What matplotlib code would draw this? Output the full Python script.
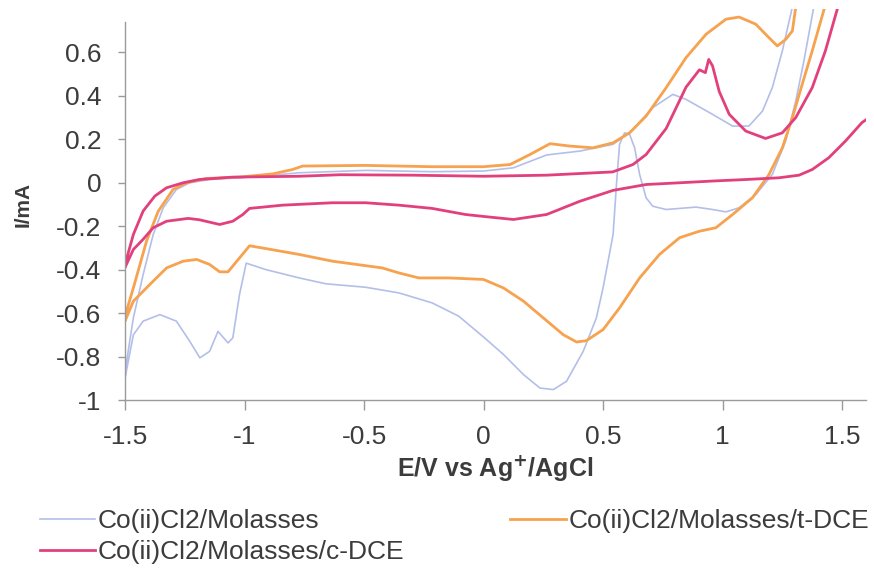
import matplotlib
matplotlib.use('Agg')
import matplotlib.pyplot as plt

# --- Data (E in V, I in mA) ---
mol_E = [1.38, 1.34, 1.306, 1.264, 1.208, 1.139, 1.069, 1.014, 0.958, 0.889, 0.764, 0.708, 0.68,
         0.653, 0.632, 0.611, 0.59, 0.569, 0.556, 0.542, 0.5, 0.472, 0.417, 0.347, 0.292, 0.236,
         0.167, 0.083, 0.0, -0.104, -0.215, -0.354, -0.493, -0.66, -0.771, -0.91, -0.993, -1.021,
         -1.049, -1.069, -1.111, -1.146, -1.187, -1.229, -1.285, -1.354, -1.424, -1.465, -1.5,
         -1.493, -1.465, -1.424, -1.382, -1.34, -1.285, -1.229, -1.146, -0.979, -0.771, -0.493,
         -0.215, 0.0, 0.125, 0.264, 0.403, 0.542, 0.62, 0.708, 0.792, 0.847, 0.958, 1.042, 1.11,
         1.167, 1.208, 1.25, 1.29]
mol_I = [0.80, 0.56, 0.376, 0.192, 0.038, -0.054, -0.115, -0.134, -0.123, -0.112, -0.123, -0.108, -0.069,
         0.038, 0.161, 0.223, 0.23, 0.177, -0.008, -0.238, -0.484, -0.622, -0.776, -0.914, -0.952, -0.945,
         -0.883, -0.79, -0.71, -0.614, -0.553, -0.507, -0.481, -0.465, -0.438, -0.4, -0.37, -0.515,
         -0.714, -0.737, -0.684, -0.776, -0.806, -0.73, -0.637, -0.607, -0.637, -0.7, -0.9,
         -0.82, -0.622, -0.422, -0.238, -0.115, -0.031, 0.0, 0.015, 0.026, 0.046, 0.057,
         0.051, 0.054, 0.069, 0.128, 0.146, 0.177, 0.24, 0.346, 0.407, 0.384, 0.315, 0.261, 0.261,
         0.33, 0.438, 0.607, 0.80]

tdce_E = [1.425, 1.375, 1.333, 1.292, 1.25, 1.194, 1.125, 1.042, 0.972, 0.903, 0.82, 0.736, 0.653,
          0.569, 0.5, 0.43, 0.389, 0.333, 0.25, 0.167, 0.083, 0.0, -0.146, -0.271, -0.354, -0.424,
          -0.632, -0.771, -0.91, -0.979, -1.021, -1.069, -1.104, -1.146, -1.2, -1.257, -1.326,
          -1.396, -1.465, -1.5,
          -1.5, -1.465, -1.41, -1.361, -1.299, -1.243, -1.16, -1.021, -0.882, -0.799, -0.757,
          -0.493, -0.215, 0.0, 0.111, 0.194, 0.278, 0.361, 0.458, 0.542, 0.611, 0.68, 0.764,
          0.847, 0.931, 1.014, 1.069, 1.139, 1.194, 1.229, 1.264, 1.292, 1.305]
tdce_I = [0.80, 0.607, 0.453, 0.3, 0.161, 0.038, -0.069, -0.146, -0.207, -0.223, -0.253, -0.33, -0.438,
          -0.576, -0.676, -0.727, -0.733, -0.699, -0.622, -0.545, -0.484, -0.445, -0.438, -0.438, -0.415, -0.392,
          -0.361, -0.33, -0.303, -0.29, -0.346, -0.41, -0.41, -0.376, -0.353, -0.361, -0.392,
          -0.468, -0.545, -0.637,
          -0.614, -0.484, -0.269, -0.131, -0.031, 0.0, 0.02, 0.026, 0.041, 0.061, 0.077,
          0.08, 0.074, 0.074, 0.084, 0.13, 0.18, 0.169, 0.161, 0.184, 0.23, 0.307, 0.438,
          0.576, 0.684, 0.753, 0.763, 0.73, 0.668, 0.63, 0.66, 0.699, 0.80]

cdce_E = [1.6, 1.583, 1.514, 1.444, 1.375, 1.32, 1.236, 1.097, 0.958, 0.82, 0.68, 0.542, 0.403,
          0.264, 0.125, 0.0, -0.076, -0.215, -0.354, -0.493, -0.632, -0.84, -0.979, -1.007, -1.049,
          -1.104, -1.19, -1.236, -1.326, -1.382, -1.424, -1.465, -1.5,
          -1.5, -1.465, -1.424, -1.375, -1.326, -1.257, -1.19, -1.05, -0.77, -0.6, -0.3, 0.0,
          0.264, 0.54, 0.625, 0.68, 0.764, 0.847, 0.903, 0.928, 0.942, 0.958, 0.986, 1.028,
          1.097, 1.18, 1.25, 1.306, 1.375, 1.43, 1.48]
cdce_I = [0.29, 0.277, 0.192, 0.115, 0.061, 0.035, 0.023, 0.015, 0.008, 0.0, -0.008, -0.035, -0.085,
          -0.146, -0.169, -0.155, -0.146, -0.118, -0.103, -0.092, -0.092, -0.103, -0.118, -0.146, -0.177,
          -0.192, -0.17, -0.164, -0.177, -0.207, -0.26, -0.307, -0.39,
          -0.376, -0.238, -0.13, -0.061, -0.023, 0.0, 0.015, 0.026, 0.03, 0.037, 0.035, 0.03,
          0.035, 0.05, 0.084, 0.13, 0.25, 0.44, 0.52, 0.507, 0.568, 0.538, 0.42, 0.315,
          0.238, 0.204, 0.23, 0.3, 0.438, 0.607, 0.80]

x_ticks = [-1.5, -1, -0.5, 0, 0.5, 1, 1.5]
y_ticks = [-1, -0.8, -0.6, -0.4, -0.2, 0, 0.2, 0.4, 0.6]

# --- Plot ---
plt.rcParams['font.family'] = ['Liberation Sans', 'DejaVu Sans']
text_col = '#3c3c3c'
axis_col = '#9a9a9a'

fig = plt.figure(figsize=(8.74, 5.69), dpi=100)
ax = fig.add_axes([125/874, 1-400/569, (866-125)/874, (400-9)/569])

l_mol, = ax.plot(mol_E, mol_I, color='#b3bfe9', lw=1.2)
l_t, = ax.plot(tdce_E, tdce_I, color='#f6a24e', lw=2.0)
l_c, = ax.plot(cdce_E, cdce_I, color='#e2407c', lw=2.0)

ax.set_xlim(-1.5, 1.6)
ax.set_ylim(-1, 0.8)
ax.set_xticks(x_ticks)
ax.set_xticklabels(['%g' % v for v in x_ticks])
ax.set_yticks(y_ticks)
ax.set_yticklabels(['%g' % v for v in y_ticks])

for s in ['top', 'right']:
	ax.spines[s].set_visible(False)
for s in ['left', 'bottom']:
	ax.spines[s].set_color(axis_col)
	ax.spines[s].set_linewidth(1.0)
ax.spines['left'].set_bounds(-1, 0.74)

ax.tick_params(axis='x', direction='out', length=7, width=1, color=axis_col,
               labelsize=19, labelcolor=text_col, pad=11)
ax.tick_params(axis='y', direction='out', length=5, width=1, color=axis_col,
               labelsize=19, labelcolor=text_col, pad=12)

ax.set_xlabel(r'E/V vs Ag$^{\mathbf{+}}$/AgCl', fontsize=18, fontweight='bold',
              color=text_col, labelpad=3)
ax.set_ylabel('I/mA', fontsize=15, fontweight='bold', color=text_col, labelpad=17)

leg = fig.legend([l_mol, l_c, l_t],
                 ['Co(ii)Cl2/Molasses', 'Co(ii)Cl2/Molasses/c-DCE', 'Co(ii)Cl2/Molasses/t-DCE'],
                 loc='upper left', bbox_to_anchor=(40/874, 1-509/569), ncol=2,
                 frameon=False, fontsize=19, handlelength=2.1, handletextpad=0.1,
                 columnspacing=4.0, labelspacing=0.28, borderpad=0, borderaxespad=0)
for t in leg.get_texts():
	t.set_color(text_col)

plt.savefig('out.png', dpi=100, facecolor='white')
